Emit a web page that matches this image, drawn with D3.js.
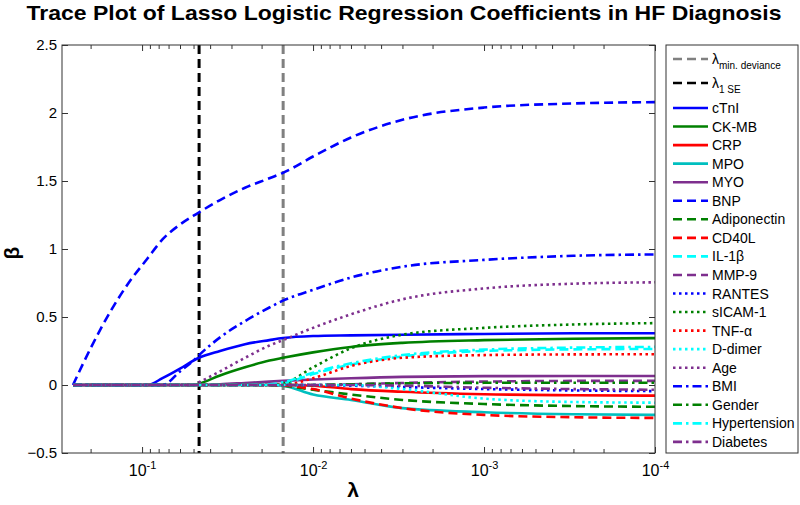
<!DOCTYPE html>
<html>
<head>
<meta charset="utf-8">
<script src="https://cdn.jsdelivr.net/npm/d3@7"></script>
<style>
  body { margin: 0; background: #fff; }
  text { font-family: Arial, "Liberation Sans", sans-serif; }
</style>
</head>
<body>
<div id="chart"></div>
<script>
// === DATA ===
// lambda values along the lasso path (x axis), largest first
const lambdaPath = [0.2535, 0.2, 0.15, 0.12, 0.093, 0.076, 0.06, 0.05, 0.0464, 0.035, 0.025, 0.018, 0.015, 0.01, 0.006, 0.003, 0.001, 0.0003, 0.0001];

const lambdaMinDeviance = 0.01496;
const lambda1SE = 0.0464;

const predictorNames = ["cTnI", "CK-MB", "CRP", "MPO", "MYO", "BNP", "Adiponectin", "CD40L", "IL-1\u03b2", "MMP-9",
    "RANTES", "sICAM-1", "TNF-\u03b1", "D-dimer", "Age", "BMI", "Gender", "Hypertension", "Diabetes"];

// coefficient values at each lambda of lambdaPath
const cTnI        = [0, 0, 0, 0, 0, 0.05, 0.12, 0.18, 0.2, 0.25, 0.3, 0.33, 0.345, 0.36, 0.365, 0.37, 0.375, 0.38, 0.38];
const ckmb        = [0, 0, 0, 0, 0, 0, 0, 0, 0.01, 0.07, 0.13, 0.18, 0.2, 0.24, 0.28, 0.31, 0.33, 0.34, 0.345];
const crp         = [0, 0, 0, 0, 0, 0, 0, 0, 0, 0, 0, 0, 0, -0.005, -0.03, -0.05, -0.068, -0.075, -0.078];
const mpo         = [0, 0, 0, 0, 0, 0, 0, 0, 0, 0, 0, 0, -0.005, -0.07, -0.11, -0.17, -0.2, -0.215, -0.22];
const myo         = [0, 0, 0, 0, 0, 0, 0, 0, 0, 0.005, 0.015, 0.025, 0.03, 0.04, 0.05, 0.06, 0.065, 0.066, 0.066];
const bnp         = [0, 0.27, 0.56, 0.75, 0.93, 1.07, 1.18, 1.245, 1.27, 1.36, 1.45, 1.52, 1.56, 1.68, 1.82, 1.95, 2.04, 2.07, 2.08];
const adiponectin = [0, 0, 0, 0, 0, 0, 0, 0, 0, 0, 0, 0, -0.005, -0.035, -0.07, -0.11, -0.14, -0.155, -0.16];
const cd40l       = [0, 0, 0, 0, 0, 0, 0, 0, 0, 0, 0, 0, -0.003, -0.03, -0.1, -0.17, -0.22, -0.237, -0.242];
const il1b        = [0, 0, 0, 0, 0, 0, 0, 0, 0, 0, 0, 0, 0.01, 0.08, 0.15, 0.21, 0.25, 0.262, 0.265];
const mmp9        = [0, 0, 0, 0, 0, 0, 0, 0, 0, 0, 0, 0, 0, 0, 0.005, 0.015, 0.025, 0.03, 0.03];
const rantes      = [0, 0, 0, 0, 0, 0, 0, 0, 0, 0, 0, 0, 0, 0, -0.005, -0.015, -0.03, -0.04, -0.045];
const sicam1      = [0, 0, 0, 0, 0, 0, 0, 0, 0, 0, 0, 0, 0.01, 0.13, 0.27, 0.37, 0.42, 0.445, 0.455];
const tnfa        = [0, 0, 0, 0, 0, 0, 0, 0, 0, 0, 0, 0, 0, 0.05, 0.14, 0.2, 0.22, 0.225, 0.226];
const ddimer      = [0, 0, 0, 0, 0, 0, 0, 0, 0, 0, 0, 0, 0, 0, 0, -0.03, -0.1, -0.125, -0.13];
const age         = [0, 0, 0, 0, 0, 0, 0, 0, 0.02, 0.1, 0.2, 0.29, 0.33, 0.42, 0.52, 0.63, 0.71, 0.745, 0.755];
const bmi         = [0, 0, 0, 0, 0, 0, 0.1, 0.18, 0.22, 0.35, 0.47, 0.57, 0.62, 0.7, 0.79, 0.87, 0.92, 0.95, 0.96];
const gender      = [0, 0, 0, 0, 0, 0, 0, 0, 0, 0, 0, 0, 0, 0, 0.005, 0.012, 0.016, 0.017, 0.017];
const hypertension = [0, 0, 0, 0, 0, 0, 0, 0, 0, 0, 0, 0.005, 0.02, 0.09, 0.16, 0.22, 0.26, 0.275, 0.28];
const diabetes    = [0, 0, 0, 0, 0, 0, 0, 0, 0, 0, 0, 0, 0, 0, 0, -0.005, -0.02, -0.03, -0.035];

const coefValues = [cTnI, ckmb, crp, mpo, myo, bnp, adiponectin, cd40l, il1b, mmp9,
    rantes, sicam1, tnfa, ddimer, age, bmi, gender, hypertension, diabetes];

const yTicks = [-0.5, 0, 0.5, 1, 1.5, 2, 2.5];
const xMajorTicks = [1e-1, 1e-2, 1e-3, 1e-4];

// === STYLES ===
const colors = {
    blue: "#0000ff", green: "#008000", red: "#ff0000",
    teal: "#00bfbf", cyan: "#00ffff", purple: "#7e2f8e"
};
const dashes = { solid: null, dashed: "9,5", dotted: "2.5,3.5", dashdot: "9,4,2.5,4" };
const seriesStyle = [
    [colors.blue, "solid"], [colors.green, "solid"], [colors.red, "solid"], [colors.teal, "solid"], [colors.purple, "solid"],
    [colors.blue, "dashed"], [colors.green, "dashed"], [colors.red, "dashed"], [colors.cyan, "dashed"], [colors.purple, "dashed"],
    [colors.blue, "dotted"], [colors.green, "dotted"], [colors.red, "dotted"], [colors.cyan, "dotted"], [colors.purple, "dotted"],
    [colors.blue, "dashdot"], [colors.green, "dashdot"], [colors.cyan, "dashdot"], [colors.purple, "dashdot"]
];

// === LAYOUT ===
const width = 800, height = 505;
const plotL = 62, plotR = 655, plotT = 45, plotB = 453;

const svg = d3.select("#chart").append("svg")
    .attr("width", width)
    .attr("height", height);

const x = d3.scaleLog().domain([0.294, 1e-4]).range([plotL, plotR]);
const y = d3.scaleLinear().domain([-0.5, 2.5]).range([plotB, plotT]);

// minor log ticks 2..9 per decade inside the domain
const xMinorTicks = [];
[1e-1, 1e-2, 1e-3, 1e-4].forEach(dec => {
    for (let k = 2; k <= 9; k++) {
        const v = dec * k;
        if (v <= 0.294 && v >= 1e-4 && !xMajorTicks.includes(v)) xMinorTicks.push(v);
    }
});

// === AXES (MATLAB style: ticks pointing inward, on all four sides) ===
const axisColor = "#333";
function styleAxis(g) {
    g.select(".domain").remove();
    g.selectAll(".tick line").attr("stroke", axisColor);
    g.selectAll(".tick text").attr("fill", "#000").attr("font-size", 15);
}

svg.append("g").attr("transform", `translate(${plotL},0)`)
    .call(d3.axisLeft(y).tickValues(yTicks).tickSize(-6).tickPadding(5).tickFormat(d3.format("")))
    .call(styleAxis);
svg.append("g").attr("transform", `translate(${plotR},0)`)
    .call(d3.axisRight(y).tickValues(yTicks).tickSize(-6).tickFormat(""))
    .call(styleAxis);

const gxb = svg.append("g").attr("transform", `translate(0,${plotB})`)
    .call(d3.axisBottom(x).tickValues(xMajorTicks).tickSize(-6).tickPadding(12).tickFormat(""))
    .call(styleAxis);
gxb.selectAll(".tick text").attr("font-size", 16).each(function(d) {
    const t = d3.select(this);
    t.append("tspan").text("10");
    t.append("tspan").attr("dy", -7).attr("font-size", 11).text(Math.round(Math.log10(d)));
});
svg.append("g").attr("transform", `translate(0,${plotB})`)
    .call(d3.axisBottom(x).tickValues(xMinorTicks).tickSize(-4).tickFormat(""))
    .call(styleAxis);
svg.append("g").attr("transform", `translate(0,${plotT})`)
    .call(d3.axisTop(x).tickValues(xMajorTicks).tickSize(-6).tickFormat(""))
    .call(styleAxis);
svg.append("g").attr("transform", `translate(0,${plotT})`)
    .call(d3.axisTop(x).tickValues(xMinorTicks).tickSize(-4).tickFormat(""))
    .call(styleAxis);

// === REFERENCE LAMBDA LINES ===
svg.append("line")
    .attr("x1", x(lambdaMinDeviance)).attr("x2", x(lambdaMinDeviance))
    .attr("y1", plotT).attr("y2", plotB)
    .attr("stroke", "#808080").attr("stroke-width", 3).attr("stroke-dasharray", dashes.dashed);
svg.append("line")
    .attr("x1", x(lambda1SE)).attr("x2", x(lambda1SE))
    .attr("y1", plotT).attr("y2", plotB)
    .attr("stroke", "#000").attr("stroke-width", 3).attr("stroke-dasharray", dashes.dashed);

// === COEFFICIENT PATHS ===
const line = d3.line()
    .x((d, i) => x(lambdaPath[i]))
    .y(d => y(d))
    .curve(d3.curveMonotoneX);

svg.append("g").selectAll("path")
    .data(coefValues)
    .enter()
    .append("path")
    .attr("d", line)
    .attr("fill", "none")
    .attr("stroke", (d, i) => seriesStyle[i][0])
    .attr("stroke-width", 2.6)
    .attr("stroke-dasharray", (d, i) => dashes[seriesStyle[i][1]]);

// plot frame
svg.append("rect")
    .attr("x", plotL).attr("y", plotT)
    .attr("width", plotR - plotL).attr("height", plotB - plotT)
    .attr("fill", "none").attr("stroke", axisColor);

// === LABELS ===
svg.append("text")
    .attr("x", 404).attr("y", 20)
    .attr("text-anchor", "middle")
    .attr("font-size", 21).attr("font-weight", "bold")
    .attr("textLength", 755).attr("lengthAdjust", "spacingAndGlyphs")
    .text("Trace Plot of Lasso Logistic Regression Coefficients in HF Diagnosis");

svg.append("text")
    .attr("transform", "translate(19,253) rotate(-90)")
    .attr("text-anchor", "middle")
    .attr("font-size", 21).attr("font-weight", "bold")
    .text("\u03b2");

svg.append("text")
    .attr("x", 353).attr("y", 497)
    .attr("text-anchor", "middle")
    .attr("font-size", 21).attr("font-weight", "bold")
    .text("\u03bb");

// === LEGEND ===
const legendEntries = [
    { label: "\u03bb", sub: "min. deviance", color: "#808080", dash: "dashed" },
    { label: "\u03bb", sub: "1 SE", color: "#000", dash: "dashed" }
].concat(predictorNames.map((n, i) => ({ label: n, color: seriesStyle[i][0], dash: seriesStyle[i][1] })));

const legend = svg.append("g");
legend.append("rect")
    .attr("x", 666).attr("y", plotT)
    .attr("width", 132).attr("height", plotB - plotT)
    .attr("fill", "#fff").attr("stroke", axisColor);

const rowY = i => i < 2 ? 59 + i * 24 : 108 + (i - 2) * 18.55;

const rows = legend.selectAll("g.row")
    .data(legendEntries)
    .enter()
    .append("g")
    .attr("class", "row")
    .attr("transform", (d, i) => `translate(0,${rowY(i)})`);

rows.append("line")
    .attr("x1", 673).attr("x2", 708)
    .attr("stroke", d => d.color)
    .attr("stroke-width", 2.6)
    .attr("stroke-dasharray", d => dashes[d.dash]);

const labels = rows.append("text")
    .attr("x", 712).attr("y", 5)
    .attr("font-size", 14)
    .text(d => d.label);
labels.filter(d => d.sub)
    .append("tspan")
    .attr("dy", 5).attr("font-size", 10)
    .text(d => d.sub);
</script>
</body>
</html>
